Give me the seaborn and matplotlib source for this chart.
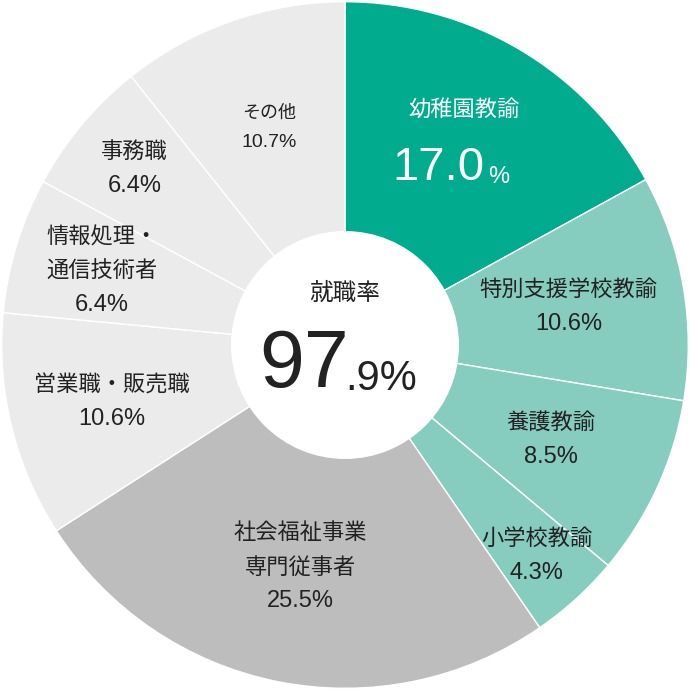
import numpy as np
import matplotlib
matplotlib.use("Agg")
import matplotlib.pyplot as plt
import seaborn as sns

names = ["幼稚園教諭", "特別支援学校教諭", "養護教諭", "小学校教諭", "社会福祉事業\n専門従事者",
         "営業職・販売職", "情報処理・\n通信技術者", "事務職", "その他"]
values = [17.0, 10.6, 8.5, 4.3, 25.5, 10.6, 6.4, 6.4, 10.7]
label_r = [0.68, 0.66, 0.66, 0.83, 0.66, 0.70, 0.74, 0.80, 0.67]
colors = ["#00ab8e", "#86cdbf", "#86cdbf", "#86cdbf", "#bdbdbd",
          "#ebebeb", "#ebebeb", "#ebebeb", "#ebebeb"]

sns.set_theme(style="white")
plt.rcParams["font.family"] = ["Noto Sans CJK JP", "DejaVu Sans"]
NUM = ["Liberation Sans", "DejaVu Sans"]

fig = plt.figure(figsize=(6.9, 6.9), dpi=100)
ax = fig.add_axes([0, 0, 1, 1])
wedges, _ = ax.pie(values, colors=colors, startangle=90, counterclock=False, radius=1.0,
                   wedgeprops=dict(edgecolor="white", linewidth=1.0))
ax.add_patch(plt.Circle((0, 0), 0.33, color="white", zorder=3))

start = 90.0
for i, (n, v) in enumerate(zip(names, values)):
    mid = np.deg2rad(start - 360 * v / 200)
    start -= 360 * v / 100
    x, y = label_r[i] * np.cos(mid), label_r[i] * np.sin(mid)
    tc = "white" if i == 0 else "#222222"
    if i == 0:
        ax.text(x, y + 0.1, n, ha="center", va="center", fontsize=16, color=tc)
        ax.text(x + 0.06, y - 0.07, "17.0", ha="right", va="center", fontsize=34,
                family=NUM, color=tc)
        ax.text(x + 0.07, y - 0.095, "%", ha="left", va="center", fontsize=17,
                family=NUM, color=tc)
        continue
    lines = n.split("\n")
    fs = 13 if i == 8 else 16
    h = 0.085 if i == 8 else 0.1
    block = lines + [f"{v:.1f}%"]
    top = y + h * (len(block) - 1) / 2
    for k, t in enumerate(block):
        if k == len(block) - 1:
            ax.text(x, top - k * h, t, ha="center", va="center", fontsize=fs + 1,
                    family=NUM, color=tc)
        else:
            ax.text(x, top - k * h, t, ha="center", va="center", fontsize=fs, color=tc)

ax.text(0, 0.15, "就職率", ha="center", va="center", fontsize=17, color="#222222", zorder=4)
ax.text(0.01, -0.06, "97", ha="right", va="center", fontsize=58, family=NUM,
        color="#222222", zorder=4)
ax.text(0.0, -0.1, ".9%", ha="left", va="center", fontsize=30, family=NUM,
        color="#222222", zorder=4)

ax.set_xlim(-1.005, 1.005)
ax.set_ylim(-1.005, 1.005)
ax.set_aspect("equal")
ax.axis("off")
fig.savefig("out.png", dpi=100, facecolor="white")
